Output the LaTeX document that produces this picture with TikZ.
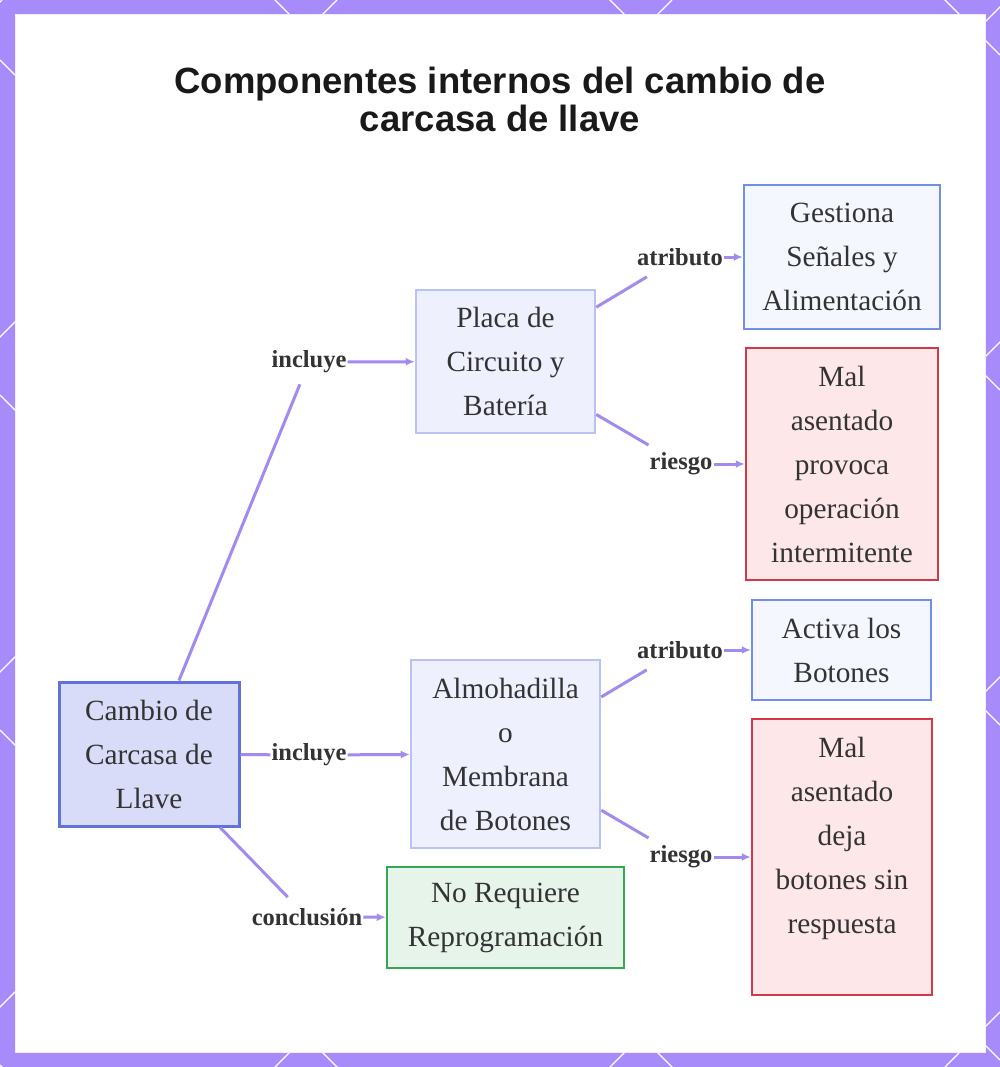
\documentclass[tikz,border=0pt]{standalone}
\usepackage{fontspec}
\setmainfont{Liberation Serif}
\newfontfamily\titlefont{Liberation Sans}
\usepackage{tikz}
\usetikzlibrary{positioning,arrows.meta}
\definecolor{framePurple}{HTML}{A78BFA}
\definecolor{edgePurple}{HTML}{A38AEE}
\definecolor{txtGray}{HTML}{333333}
\definecolor{rootFill}{HTML}{D8DCF8}
\definecolor{rootLine}{HTML}{6272D6}
\definecolor{partFill}{HTML}{EEF0FE}
\definecolor{partLine}{HTML}{B9C2F3}
\definecolor{attrFill}{HTML}{F5F7FF}
\definecolor{attrLine}{HTML}{6F8FE8}
\definecolor{riskFill}{HTML}{FDE7E9}
\definecolor{riskLine}{HTML}{D2374A}
\definecolor{okFill}{HTML}{E6F4EA}
\definecolor{okLine}{HTML}{34A853}

\begin{document}
\begin{tikzpicture}[
    x=1pt, y=-1pt,
    box/.style={
        draw,
        line width=2.5pt,
        align=center,
        inner sep=0pt,
        text=txtGray,
        font=\fontsize{29.3}{44}\selectfont
    },
    rootbox/.style={box, fill=rootFill, draw=rootLine, line width=3pt},
    partbox/.style={box, fill=partFill, draw=partLine},
    attrbox/.style={box, fill=attrFill, draw=attrLine},
    riskbox/.style={box, fill=riskFill, draw=riskLine},
    okbox/.style={box, fill=okFill, draw=okLine},
    tag/.style={
        inner xsep=1pt,
        inner ysep=11pt,
        text=txtGray,
        font=\bfseries\fontsize{24.5}{28}\selectfont
    },
    link/.style={
        draw=edgePurple,
        line width=3pt
    },
    arrow/.style={
        link,
        -{Latex[length=9pt,width=8pt]}
    }
]
\useasboundingbox (0,0) rectangle (1000,1067);
\fill[framePurple] (0,0) rectangle (1000,1067);
\begin{scope}
\clip (0,0) rectangle (1000,1067);
\foreach \c in {2,337,...,2012}
    \draw[white, line width=1.2pt] (\c,0) -- (\c-1067,1067);
\foreach \c in {-945,-610,...,1065}
    \draw[white, line width=1.2pt] (0,\c) -- (1000,1000+\c);
\end{scope}
\filldraw[fill=white, draw=white!85!framePurple, line width=1pt] (15,15) rectangle (985,1052);

\node[text=black!90, align=center, font=\titlefont\bfseries\fontsize{36.5}{38}\selectfont] (title) at (500,99)
    {Componentes internos del cambio de\\carcasa de llave};

\node[rootbox, minimum width=180pt, minimum height=144pt] (root) at (149,754) {Cambio de\\Carcasa de\\Llave};
\node[partbox, minimum width=179pt, minimum height=143pt] (placa) at (505.5,361.5) {Placa de\\Circuito y\\Batería};
\node[partbox, minimum width=189pt, minimum height=188pt] (almo) at (505.5,754) {Almohadilla\\o\\Membrana\\de Botones};
\node[okbox, minimum width=237pt, minimum height=101pt] (noprog) at (505.5,917.5) {No Requiere\\Reprogramación};
\node[attrbox, minimum width=196pt, minimum height=144pt] (senales) at (842,257) {Gestiona\\Señales y\\Alimentación};
\node[riskbox, minimum width=192pt, minimum height=232pt] (intermit) at (842,464) {Mal\\asentado\\provoca\\operación\\intermitente};
\node[attrbox, minimum width=179pt, minimum height=100pt] (botones) at (841.5,650) {Activa los\\Botones};
\node[riskbox, minimum width=180pt, minimum height=276pt] (sinresp) at (842,857) {Mal\\asentado\\deja\\botones sin\\respuesta\\~};

\node[tag] (inc1) at (309,362) {incluye};
\node[tag] (inc2) at (309,755) {incluye};
\node[tag] (conc) at (307,917) {conclusión};
\node[tag] (atr1) at (680,257) {atributo};
\node[tag] (rsk1) at (681,464) {riesgo};
\node[tag] (atr2) at (680,650) {atributo};
\node[tag] (rsk2) at (681,857) {riesgo};

\draw[link] (root) -- (inc1);
\draw[arrow] (inc1) -- (placa);
\draw[link] (root) -- (inc2);
\draw[arrow] (inc2) -- (almo);
\draw[link] (root) -- (conc);
\draw[arrow] (conc) -- (noprog);
\draw[link] (placa) -- (atr1);
\draw[arrow] (atr1) -- (senales);
\draw[link] (placa) -- (rsk1);
\draw[arrow] (rsk1) -- (intermit);
\draw[link] (almo) -- (atr2);
\draw[arrow] (atr2) -- (botones);
\draw[link] (almo) -- (rsk2);
\draw[arrow] (rsk2) -- (sinresp);
\end{tikzpicture}
\end{document}
